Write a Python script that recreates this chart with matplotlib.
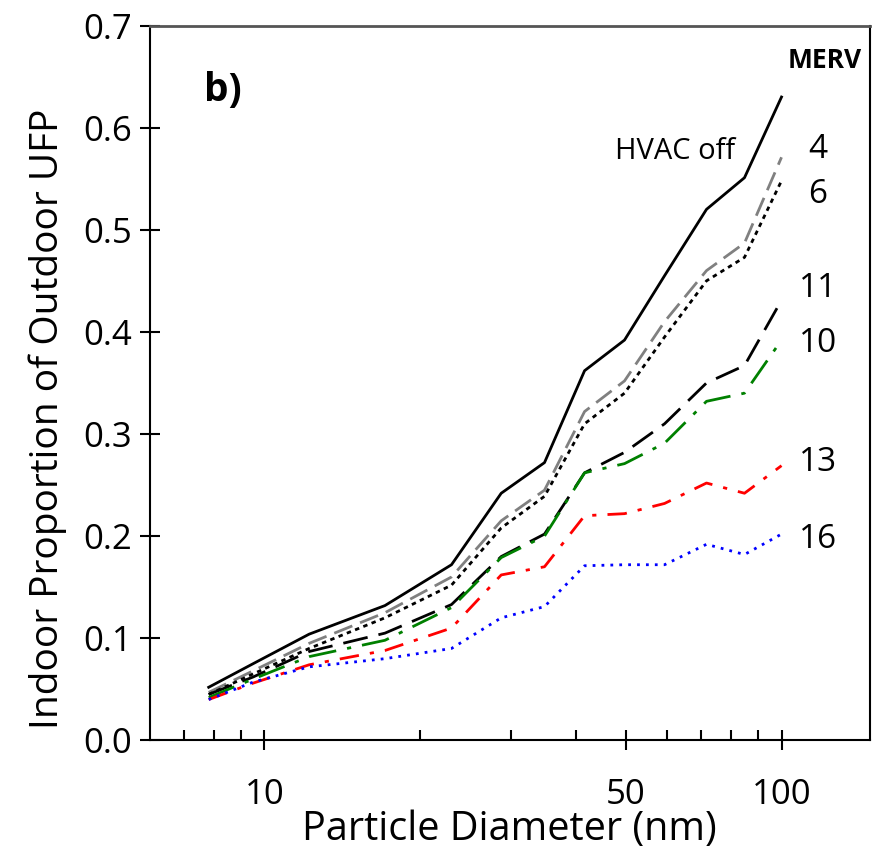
import matplotlib
matplotlib.use("Agg")
import matplotlib.pyplot as plt
from matplotlib.ticker import FixedLocator, NullFormatter, FixedFormatter

plt.rcParams['font.family'] = ['Open Sans', 'DejaVu Sans']

diam = [7.8, 9.5, 12.2, 17.1, 23.0, 28.7, 34.8, 41.6, 49.7, 59.4, 71.6, 84.8, 100]

hvac_off = [0.052, 0.075, 0.104, 0.132, 0.172, 0.242, 0.272, 0.362, 0.392, 0.455, 0.52, 0.551, 0.63]
merv4 = [0.047, 0.068, 0.095, 0.125, 0.16, 0.215, 0.245, 0.322, 0.352, 0.41, 0.46, 0.487, 0.571]
merv6 = [0.045, 0.065, 0.09, 0.12, 0.152, 0.208, 0.239, 0.31, 0.34, 0.395, 0.45, 0.473, 0.548]
merv11 = [0.045, 0.062, 0.087, 0.105, 0.133, 0.18, 0.202, 0.262, 0.282, 0.31, 0.35, 0.367, 0.431]
merv10 = [0.042, 0.06, 0.082, 0.098, 0.13, 0.179, 0.2, 0.262, 0.271, 0.291, 0.332, 0.34, 0.392]
merv13 = [0.04, 0.056, 0.074, 0.088, 0.11, 0.162, 0.17, 0.22, 0.222, 0.232, 0.252, 0.242, 0.269]
merv16 = [0.04, 0.057, 0.072, 0.08, 0.09, 0.12, 0.131, 0.171, 0.172, 0.172, 0.192, 0.182, 0.202]

series_labels = ["HVAC off", "4", "6", "11", "10", "13", "16"]
x_tick_values = [10, 50, 100]
x_tick_labels = ["10", "50", "100"]
x_minor_values = [7, 8, 9, 20, 30, 40, 60, 70, 80, 90]
y_tick_values = [0.0, 0.1, 0.2, 0.3, 0.4, 0.5, 0.6, 0.7]

fig = plt.figure(figsize=(8.81, 8.51), dpi=100)
ax = fig.add_axes([0.170, 0.130, 0.817, 0.840])

ax.plot(diam, hvac_off, color='black', lw=2.0, ls='-')
ax.plot(diam, merv4, color='#808080', lw=2.0, dashes=(7, 3))
ax.plot(diam, merv6, color='black', lw=2.0, dashes=(1.6, 1.6))
ax.plot(diam, merv11, color='black', lw=2.0, dashes=(9, 4))
ax.plot(diam, merv10, color='#008000', lw=2.0, dashes=(10, 4, 1.5, 4))
ax.plot(diam, merv13, color='#ff0000', lw=2.0, dashes=(7, 4, 1.5, 4))
ax.plot(diam, merv16, color='#0000ff', lw=2.0, dashes=(1.0, 2.2))

ax.set_xscale('log')
ax.set_xlim(6, 148)
ax.set_ylim(0, 0.7)

ax.xaxis.set_major_locator(FixedLocator(x_tick_values))
ax.xaxis.set_major_formatter(FixedFormatter(x_tick_labels))
ax.xaxis.set_minor_locator(FixedLocator(x_minor_values))
ax.xaxis.set_minor_formatter(NullFormatter())
ax.set_yticks(y_tick_values)
ax.set_yticklabels([f"{v:.1f}" for v in y_tick_values])

ax.tick_params(axis='both', which='major', direction='inout', length=14, width=1.5,
               labelsize=25, pad=6, color='black')
ax.tick_params(axis='x', which='minor', direction='in', length=7, width=1.5)
ax.tick_params(axis='x', which='major', pad=20)
for s in ax.spines.values():
    s.set_linewidth(1.5)
ax.spines['top'].set_color('#555555')
ax.spines['top'].set_linewidth(2.0)

ax.set_xlabel("Particle Diameter (nm)", fontsize=28.5)
ax.xaxis.set_label_coords(0.5, -0.097)
ax.set_ylabel("Indoor Proportion of Outdoor UFP", fontsize=28)
ax.yaxis.set_label_coords(-0.115, 0.45)

ytr = ax.get_yaxis_transform()
ax.text(0.076, 0.636, "b)", transform=ytr, fontsize=28, fontweight='bold',
        ha='left', va='center')
ax.text(0.989, 0.666, "MERV", transform=ytr, fontsize=19, fontweight='bold',
        ha='right', va='center')
ax.text(0.73, 0.577, series_labels[0], transform=ytr, fontsize=21,
        ha='center', va='center')
label_y = [0.579, 0.535, 0.442, 0.389, 0.272, 0.197]
for lab, yv in zip(series_labels[1:], label_y):
    ax.text(0.928, yv, lab, transform=ytr, fontsize=24,
            ha='center', va='center')

fig.savefig("out.png", dpi=100)
